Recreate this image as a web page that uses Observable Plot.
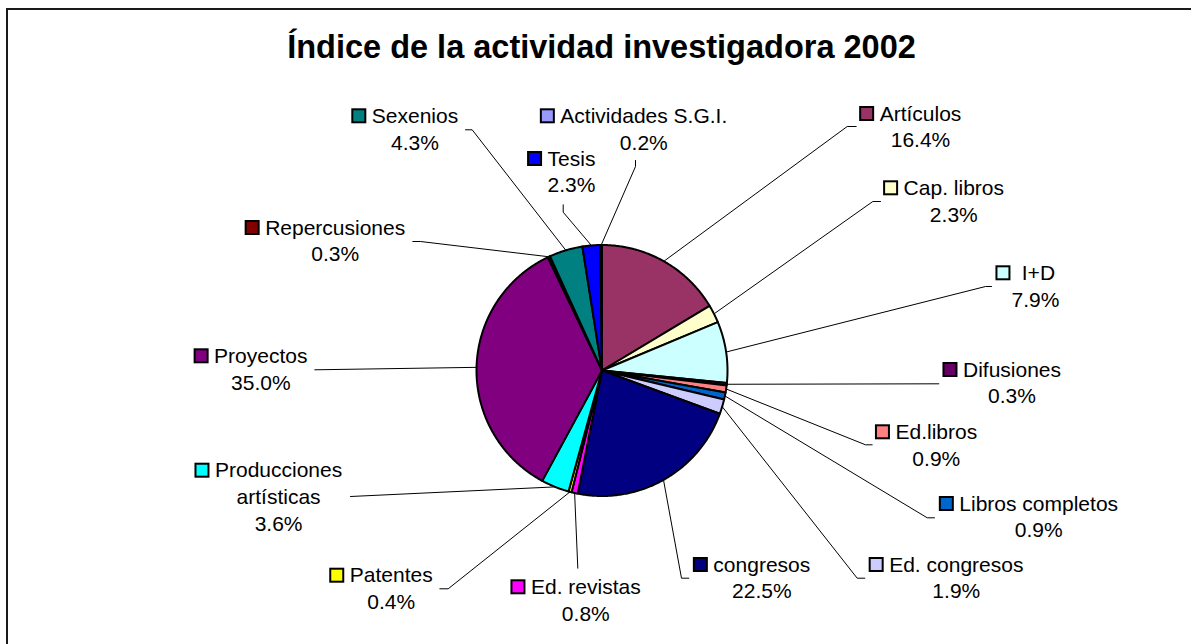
<!DOCTYPE html>
<html><head><meta charset="utf-8">
<script src="https://cdn.jsdelivr.net/npm/d3@7"></script>
<script src="https://cdn.jsdelivr.net/npm/@observablehq/plot@0.6"></script>
<style>
html,body{margin:0;padding:0;background:#fff;}
#wrap{position:relative;width:1191px;height:644px;overflow:hidden;font-family:'Liberation Sans',Arial,sans-serif;}
#title{position:absolute;left:0;top:31px;width:1203px;text-align:center;font-weight:bold;font-size:32.5px;line-height:32px;color:#000;white-space:nowrap;}
#frame{position:absolute;left:6px;top:8px;width:1300px;height:800px;border:2px solid #1a1a1a;box-sizing:border-box;pointer-events:none;}
#chart{position:absolute;left:0;top:0;}
</style></head>
<body><div id="wrap"><div id="chart"></div><div id="title">Índice de la actividad investigadora 2002</div><div id="frame"></div></div>
<script>
// ---- data (clockwise from 12 o'clock) ----
const categories = ["Artículos","Cap. libros","I+D","Difusiones","Ed.libros","Libros completos","Ed. congresos","congresos","Ed. revistas","Patentes","Producciones artísticas","Proyectos","Repercusiones","Sexenios","Tesis","Actividades S.G.I."];
const values = [16.4, 2.3, 7.9, 0.3, 0.9, 0.9, 1.9, 22.5, 0.8, 0.4, 3.6, 35.0, 0.3, 4.3, 2.3, 0.2];
const colors = ["#993366","#FFFFCC","#CCFFFF","#660066","#FF8080","#0066CC","#CCCCFF","#000080","#FF00FF","#FFFF00","#00FFFF","#800080","#800000","#008080","#0000FF","#9999FF"];
const nameLines = [["Artículos"],["Cap. libros"],["\u00a0I+D"],["Difusiones"],["Ed.libros"],["Libros completos"],["Ed. congresos"],["congresos"],["Ed. revistas"],["Patentes"],["Producciones","artísticas"],["Proyectos"],["Repercusiones"],["Sexenios"],["Tesis"],["Actividades S.G.I."]];
const title = "Índice de la actividad investigadora 2002";

// ---- layout (pixels) ----
const W = 1191, H = 644;
const pieCenter = [601.5, 370], pieRadius = 125.5;
const fontSize = 21, lineGap = 26.7;
// label text centre x, first baseline y
const labelAnchor = [[920,120],[953.3,194.3],[1035,279.3],[1011.5,376],[935.8,438.3],[1038.2,510],[955.8,571],[761.3,571],[585.3,593.3],[390.7,581.7],[278.1,476.7],[260.3,362.3],[334.7,234],[414.5,122.3],[571,165],[643.3,122.3]];
// leader line bend/end points
const leaderPath = [
  [[846.7,126],[855.7,126]],
  [[872.3,201],[880,201]],
  [[985,286],[991,286]],
  [[938.3,383.3]],
  [[865,444.3],[871.7,444.3]],
  [[926.7,517.3],[934,517.3]],
  [[856.7,577.7],[864.3,577.7]],
  [[681,577.7],[688.3,577.7]],
  [[577.3,567.7]],
  [[447.7,588.3],[439.3,588.3]],
  [[350,496]],
  [[314.3,369.3]],
  [[420,241],[412.3,241]],
  [[471.7,129.3],[465,129.3]],
  [[562.7,211.7],[562.7,204.3]],
  [[635,166],[635,160]]
];

document.getElementById("title").textContent = title;

const [cx, cy] = pieCenter, r = pieRadius;
const arcs = d3.pie().sort(null).value(d => d)(values);
const pt = (a, rad) => ({x: cx + rad * Math.sin(a), y: cy - rad * Math.cos(a)});

const sliceMarks = arcs.map((a, i) => {
  const pts = [{x: cx, y: cy}];
  const n = Math.max(2, Math.ceil((a.endAngle - a.startAngle) / 0.01));
  for (let k = 0; k <= n; k++) pts.push(pt(a.startAngle + (a.endAngle - a.startAngle) * k / n, r));
  return Plot.line(pts, {x: "x", y: "y", fill: colors[i], stroke: "#000", strokeWidth: 2, curve: "linear-closed", strokeLinejoin: "round"});
});

const leaders = [];
arcs.forEach((a, i) => {
  const mid = (a.startAngle + a.endAngle) / 2;
  const p0 = pt(mid, r);
  leaders.push({k: i, x: p0.x, y: p0.y});
  leaderPath[i].forEach(([x, y]) => leaders.push({k: i, x, y}));
});

const ctx = document.createElement("canvas").getContext("2d");
ctx.font = `${fontSize}px 'Liberation Sans', Arial, sans-serif`;

const textRows = [], keys = [];
categories.forEach((c, i) => {
  const [tx, ty] = labelAnchor[i];
  const lines = [...nameLines[i], values[i].toFixed(1) + "%"];
  lines.forEach((s, j) => textRows.push({s, x: tx, y: ty + j * lineGap}));
  const w = ctx.measureText(nameLines[i][0]).width;
  const start = tx - w / 2;
  keys.push({x1: start - 19, x2: start - 6, y1: ty - 13, y2: ty, color: colors[i]});
});

const chart = Plot.plot({
  width: W, height: H, margin: 0,
  x: {domain: [0, W], range: [0, W], axis: null},
  y: {domain: [0, H], range: [0, H], axis: null},
  style: {fontFamily: "'Liberation Sans', Arial, sans-serif", background: "transparent", color: "#000"},
  marks: [
    Plot.line(leaders, {x: "x", y: "y", z: "k", stroke: "#000", strokeWidth: 1}),
    ...sliceMarks,
    Plot.rect(keys, {x1: "x1", x2: "x2", y1: "y1", y2: "y2", fill: d => d.color, stroke: "#000", strokeWidth: 2}),
    Plot.text(textRows, {x: "x", y: "y", text: "s", textAnchor: "middle", lineAnchor: "bottom", fontSize, fill: "#000"})
  ]
});
document.getElementById("chart").appendChild(chart);
</script>
</body></html>
